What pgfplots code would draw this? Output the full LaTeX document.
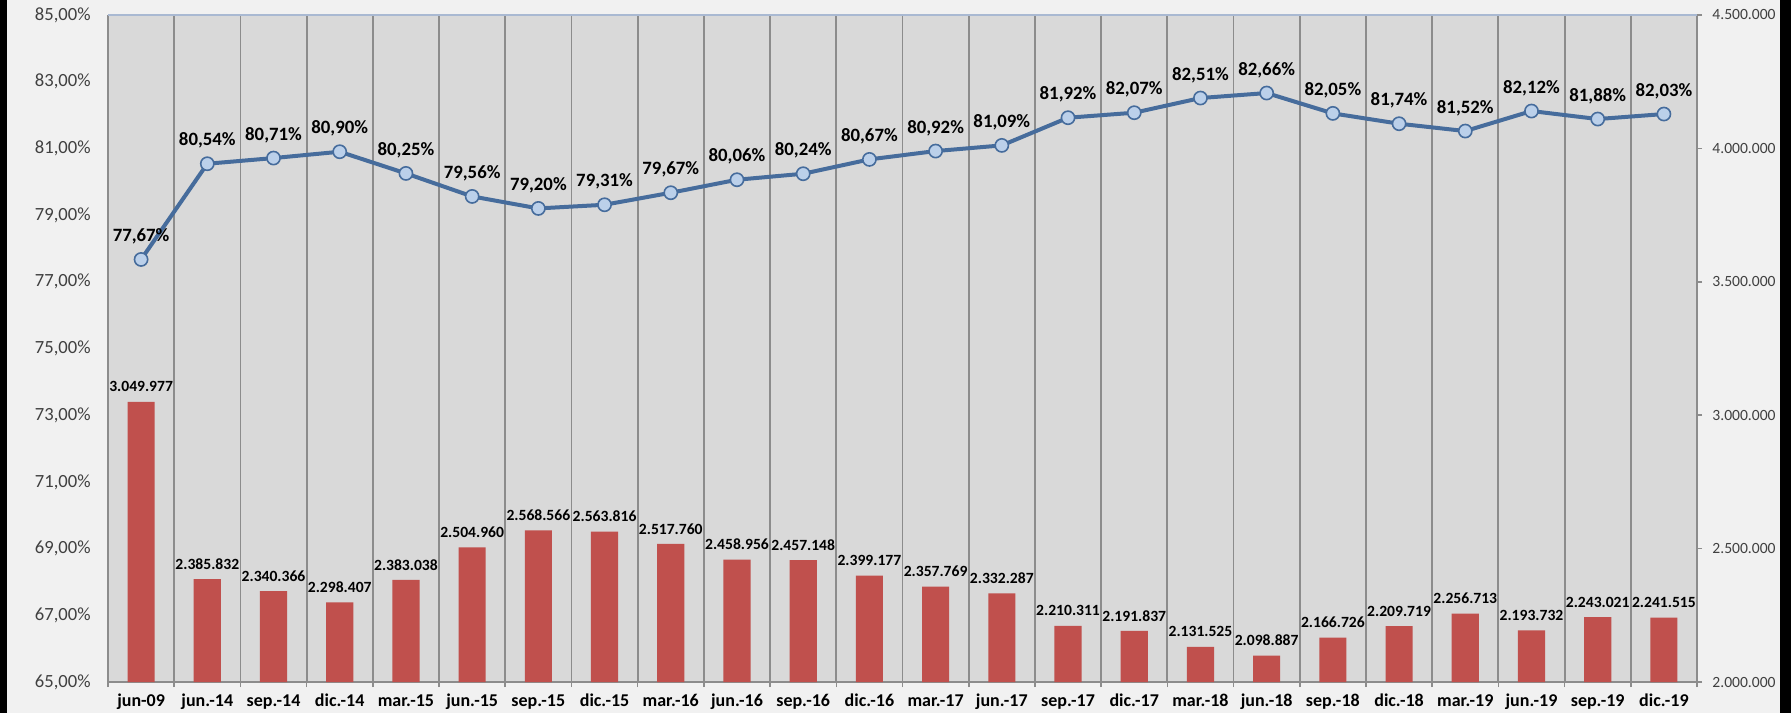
\documentclass[border=0pt]{standalone}
\usepackage{pgfplots}
\pgfplotsset{compat=1.18}
\usepackage{pgfplotstable}
\usepackage{fontspec}
\setmainfont{Carlito}
\definecolor{barred}{HTML}{C0504D}
\definecolor{linecol}{HTML}{466C9C}
\definecolor{markfill}{HTML}{BBD0EA}
\definecolor{plotbg}{HTML}{D9D9D9}
\definecolor{outerbg}{HTML}{F1F1F1}
\definecolor{gridgray}{HTML}{8C8C8C}
\definecolor{topline}{HTML}{A9B9D2}
\definecolor{ticktext}{HTML}{404040}

\pgfplotstableread{
x pct plab bar blab
0 77.67 77,67 3049977 3.049.977
1 80.54 80,54 2385832 2.385.832
2 80.71 80,71 2340366 2.340.366
3 80.90 80,90 2298407 2.298.407
4 80.25 80,25 2383038 2.383.038
5 79.56 79,56 2504960 2.504.960
6 79.20 79,20 2568566 2.568.566
7 79.31 79,31 2563816 2.563.816
8 79.67 79,67 2517760 2.517.760
9 80.06 80,06 2458956 2.458.956
10 80.24 80,24 2457148 2.457.148
11 80.67 80,67 2399177 2.399.177
12 80.92 80,92 2357769 2.357.769
13 81.09 81,09 2332287 2.332.287
14 81.92 81,92 2210311 2.210.311
15 82.07 82,07 2191837 2.191.837
16 82.51 82,51 2131525 2.131.525
17 82.66 82,66 2098887 2.098.887
18 82.05 82,05 2166726 2.166.726
19 81.74 81,74 2209719 2.209.719
20 81.52 81,52 2256713 2.256.713
21 82.12 82,12 2193732 2.193.732
22 81.88 81,88 2243021 2.243.021
23 82.03 82,03 2241515 2.241.515
}\datatable

\begin{document}
\begin{tikzpicture}
\useasboundingbox (-54pt,-15.5pt) rectangle (841.5pt,341pt);
\fill[outerbg] (-54pt,-15.5pt) rectangle (841.5pt,341pt);
\fill[black] (-54pt,-15.5pt) rectangle (-50.5pt,341pt);
\fill[black] (836pt,-15.5pt) rectangle (841.5pt,341pt);

% bars on the right axis
\begin{axis}[
  at={(0,0)}, anchor=south west,
  scale only axis, width=794.5pt, height=333.5pt,
  xmin=-0.5, xmax=23.5,
  ymin=2000000, ymax=4500000,
  axis background/.style={fill=plotbg},
  axis x line*=bottom, axis y line*=right,
  axis line style={gridgray, line width=0.9pt},
  tick align=outside,
  major tick length=2.5pt,
  tick style={gridgray, line width=0.8pt},
  xtick={-0.5,0.5,...,23.5},
  xticklabels={jun-09,jun.-14,sep.-14,dic.-14,mar.-15,jun.-15,sep.-15,dic.-15,mar.-16,jun.-16,sep.-16,dic.-16,mar.-17,jun.-17,sep.-17,dic.-17,mar.-18,jun.-18,sep.-18,dic.-18,mar.-19,jun.-19,sep.-19,dic.-19,{}},
  xticklabel style={font=\bfseries\fontsize{9}{10}\selectfont, text=black, inner sep=0pt, anchor=base, xshift=16.55pt, yshift=-9.5pt},
  xmajorgrids,
  major x grid style={gridgray, line width=0.9pt},
  ytick={2000000,2500000,3000000,3500000,4000000,4500000},
  yticklabels={2.000.000,2.500.000,3.000.000,3.500.000,4.000.000,4.500.000},
  scaled y ticks=false,
  yticklabel style={font=\fontsize{7.8}{9}\selectfont, text=ticktext, inner sep=0pt, anchor=west, xshift=5pt},
  /pgf/number format/assume math mode=true,
  clip=false,
]
\addplot[ybar, bar width=0.41, bar shift=0pt, fill=barred, draw=none,
  nodes near coords, point meta=explicit symbolic,
  nodes near coords style={font=\bfseries\fontsize{7.8}{9}\selectfont, text=black, anchor=center, inner sep=0pt, yshift=7.5pt}]
  table[x=x, y=bar, meta=blab]{\datatable};
\draw[topline, line width=0.9pt] (rel axis cs:0,1) -- (rel axis cs:1,1);
\end{axis}

% percentage line on the left axis
\begin{axis}[
  at={(0,0)}, anchor=south west,
  scale only axis, width=794.5pt, height=333.5pt,
  xmin=-0.5, xmax=23.5,
  ymin=65, ymax=85,
  axis x line=none, axis y line*=left,
  axis line style={draw=none},
  tick align=inside,
  major tick length=0pt,
  ytick={65,67,...,85},
  yticklabels={{65,00\%},{67,00\%},{69,00\%},{71,00\%},{73,00\%},{75,00\%},{77,00\%},{79,00\%},{81,00\%},{83,00\%},{85,00\%}},
  yticklabel style={font=\fontsize{9.3}{10}\selectfont, text=ticktext, inner sep=0pt, anchor=east, xshift=-8.5pt},
  /pgf/number format/assume math mode=true,
  clip=false,
]
\addplot[linecol, line width=2pt, mark=*, mark size=3.3pt,
  mark options={fill=markfill, draw=linecol, line width=0.8pt},
  nodes near coords={\pgfplotspointmeta\%}, point meta=explicit symbolic,
  nodes near coords style={font=\bfseries\fontsize{9.4}{10}\selectfont, text=black, anchor=center, inner sep=0pt, yshift=11.5pt}]
  table[x=x, y=pct, meta=plab]{\datatable};
\end{axis}
\end{tikzpicture}
\end{document}
